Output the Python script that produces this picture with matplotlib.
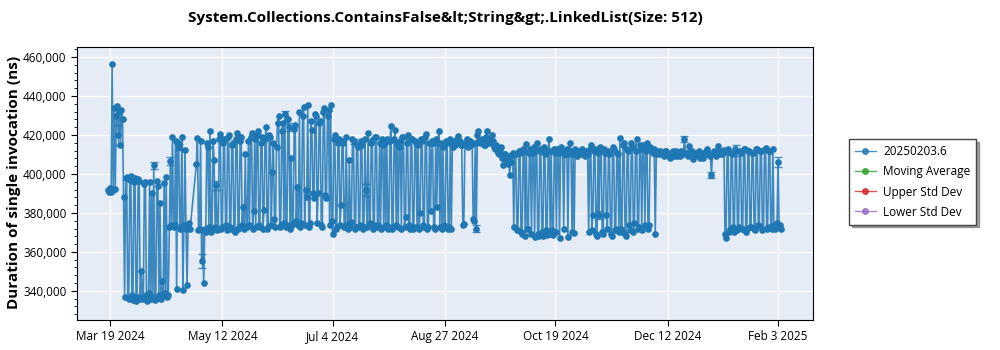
import numpy as np
import pandas as pd
import matplotlib
matplotlib.use('Agg')
import matplotlib.pyplot as plt
from matplotlib.lines import Line2D
from matplotlib.ticker import FuncFormatter, MultipleLocator, AutoMinorLocator

plt.rcParams['font.family'] = ['Open Sans', 'DejaVu Sans']

# durations in thousands of ns, two runs per day (00:00 and 12:00), nan = no run
burst = [392, 390.5, 393, 391, 456.6, 392, 434, 392.5,
         430, 435, 420, 432, 415, 433, 428, 388]          # Mar 18 - Mar 25

mar = [337, 398, 398.7, 336.5, 336, 397, 399, 338, 335.5, 396, 398, 335]   # from Mar 26
apr = [337, 397.5, 396.6, 336, 350.4, 337, 336, 395, 396, 338,
       335, 339, 396, 336, 390, 337, 404.4, 335.5, 336, 396.5,
       394, 338, 385, 336, 345.3, 338, 395.3, 339, 398.7, 337,
       338, 373, 406.8, 374, 419, 373, 374, 417, 340.8, 416,
       414, 372, 373, 419, 340.2, 374, 412.4, 372, 343, 373,
       374.7, 372, np.nan, np.nan, np.nan, np.nan, np.nan, 405, 418.4, 371]
may = [372, 417, 355.4, 371, 344, 372, 370, 416, 414, 373,
       422.3, 370, 371, 417, 407.3, 373, 394.1, 371, 372, 418,
       420.4, 372, 373, 416, 418, 374, 371, 419, 420, 373,
       372, 415, 416, 371, 370, 418, 421, 372, 373, 417,
       419, 374, 383, 372, 410, 373, 373, 417, 374, 419,
       421, 372, 381, 418, 373, 420, 422, 374, 373, 416, 419, 372]
jun = [381.6, 418, 424, 372, 373, 420, 419, 374, 401, 416,
       377, 373, 414, 426, 430, 373, 374, 422, 426, 375,
       431, 373, 374, 428, 424, 372, 408, 374, 375, 423,
       425, 376, 393.5, 374, 432, 373, 375, 430, 434.6, 374,
       391.8, 388, 435.5, 373, 374.7, 427, 422.7, 390, 387.6, 431,
       429.5, 375, 390, 426, 427, 374, 373, 432, 433.8, 389]
jul = [387.6, 430, 432.9, 374, 435.5, 376, 369.2, 418, 420, 372,
       373, 416, 418, 374, 384, 417, 415.8, 373, 373, 419,
       374, 372, 407, 373, 375.6, 418, 416.7, 372, 373, 415,
       414, 373, 374, 417, 415, 372, 373, 418, 391.8, 373,
       420.9, 374, 375, 416, 417.5, 372, 374, 419, 419, 373,
       374, 416, 372, 418, 415, 373, 416, 374, 418, 372, 373, 417]
aug = [424.4, 372, 373, 418, 422.5, 374, 416, 373, 414, 417,
       372, 419, 419, 373, 378, 416, 420, 374, 372, 418,
       418, 372, 373, 417, 416, 373, 415, 372, 380, 418,
       417, 374, 373, 419, 420.5, 372, 373, 416, 381, 417,
       416, 373, 372, 418, 383, 416, 422, 373, 416, 372,
       414, 374, 373, 417, 416, 372, 373, 418, 372, 415, 414, 417]
sep = [415, 418, 419.5, 416, 417, 415, 415, 374, 374.2, 416,
       416, 418, 414, 417, 417, 415, 416, 377, 376, 416,
       372, 420, 421.8, 417, 416, 418, 417, 415, 415, 419,
       421.8, 416, 418, 417, 416, 420, 417, 414, 413, 415,
       412.4, 411, 410, 413, 414, 408, 404.7, 410, 410, 407,
       405, 409, 399.5, 406, 409.8, 411, 373, 410, 410, 371]
oct = [371.3, 412, 411, 370, 369, 413, 412, 368, 415.3, 372,
       372, 411, 413, 369, 411, 414, 367.8, 412, 416, 369,
       368, 413, 412, 370, 368, 414, 410, 371, 368.5, 412,
       417.8, 369, 412, 371, 368.5, 413, 411, 370, 413, 411,
       367, 414, 412, 412, 372, 410, 410, 413, 367.8, 411,
       415.8, 412, 370, 410, 369.5, 413, 411, 409, 412, 410, 410, 412]
nov = [413, 410, 409, 412, 411, 410, 370, 413, 414.9, 371,
       379, 412, 413, 369, 368, 411, 379, 414, 412, 370,
       369, 413, 411, 379, 372, 412, 410, 369, 368, 414,
       413, 371, 372, 411, 410, 370, 418.3, 372, 370, 415,
       416, 369, 368, 413, 412, 374, 371, 416, 414, 370,
       374.6, 412, 417.8, 372, 373, 415, 413, 371, 415, 413]
dec = [373.8, 412, 415.8, 372, 374, 414, 413, 412, 411, 413,
       369, 410, 412, 411, 410, 412, 411, 410, 409, 412,
       412, 410, 410.5, 409, 408, 411, 411, 412, 409, 410,
       412, 409, 410, 411, 409, 412, 411, 410, 418, 411,
       411, 409, 414.5, 411, 410, 412, 407.5, 409, 409, 411,
       411, 410, 412, 408, 409, 411, 408, 410, 410, 412, 413, 410]
jan = [411, 409, 399.5, 411, 412, 410, 409, 411, 414.5, 410,
       411, 412, 410, 411, 412.5, 369, 367, 412, 413, 370,
       372, 411, 410, 373, 370, 413, 412, 371, 373, 412,
       411, 372, 371.5, 413, 413, 370, 372, 412, 412, 373,
       373, 411, 411, 372, 371, 413, 413, 374, 373.5, 412,
       412, 371, 372, 413, 413.5, 372, 373, 412, 412, 373, 372, 413]
feb = [374, 372, 373, 375, 406, 373, 374, 372]

blocks = [('2024-03-18', burst), ('2024-03-26', mar), ('2024-04-01', apr),
          ('2024-05-01', may), ('2024-06-01', jun), ('2024-07-01', jul),
          ('2024-08-01', aug), ('2024-09-01', sep), ('2024-10-01', oct),
          ('2024-11-01', nov), ('2024-12-01', dec), ('2025-01-01', jan),
          ('2025-02-01', feb)]

# runs with a visible spread (thousands of ns)
err_dates = ['2024-03-23', '2024-04-09', '2024-04-17', '2024-04-21', '2024-05-02',
             '2024-05-09', '2024-06-11', '2024-06-13', '2024-07-14', '2024-07-20',
             '2024-09-11', '2024-10-24', '2024-11-09', '2024-12-20', '2025-01-02',
             '2025-01-14', '2025-02-03']
err_size = [5, 2, 2, 1.5, 3.5, 2.5, 1.5, 2, 1.5, 3, 2, 1.5, 2, 1.5, 1.5, 3, 2.5]

tick_dates = ['2024-03-19', '2024-05-12', '2024-07-04', '2024-08-27',
              '2024-10-19', '2024-12-12', '2025-02-03']

parts = [pd.Series(vals, index=pd.date_range(start, periods=len(vals), freq='12h'))
         for start, vals in blocks]
data = pd.concat(parts).dropna() * 1000

blue = '#1f77b4'
fig = plt.figure(figsize=(10, 3.5), dpi=100)
ax = fig.add_axes([0.077, 0.086, 0.736, 0.781])
ax.set_facecolor('#e5ecf6')
ax.grid(True, color='white', lw=1)
ax.set_axisbelow(True)

ax.plot(data.index, data.values, color=blue, lw=1.2, alpha=0.85)
ax.plot(data.index, data.values, 'o', color=blue, ms=4.8, mew=0)

ed = pd.to_datetime(err_dates)
ax.errorbar(ed, data.loc[ed].values, yerr=np.array(err_size) * 1000, fmt='none',
            ecolor=blue, elinewidth=1, capsize=3, alpha=0.8)

ax.set_xlim(pd.Timestamp('2024-03-03 03:00'), pd.Timestamp('2025-02-19 19:00'))
ax.set_ylim(325100, 465400)
ax.yaxis.set_major_locator(MultipleLocator(20000))
ax.yaxis.set_minor_locator(AutoMinorLocator(5))
ax.yaxis.set_major_formatter(FuncFormatter(lambda v, p: f'{v:,.0f}'))
tick_ts = pd.to_datetime(tick_dates)
ax.set_xticks(tick_ts)
ax.set_xticklabels([f'{d:%b} {d.day} {d.year}' for d in tick_ts])
ax.tick_params(labelsize=8.5, length=4)
ax.tick_params(which='minor', length=2)
for s in ax.spines.values():
    s.set_color('black')

fig.text(0.445, 0.948, 'System.Collections.ContainsFalse&lt;String&gt;.LinkedList(Size: 512)',
         ha='center', va='center', fontsize=11, fontweight='bold')
fig.text(0.014, 0.48, 'Duration of single invocation (ns)', rotation=90,
         ha='center', va='center', fontsize=11, fontweight='bold')

legend_items = [('20250203.6', blue), ('Moving Average', '#2ca02c'),
                ('Upper Std Dev', '#d62728'), ('Lower Std Dev', '#9467bd')]
handles = [Line2D([], [], color=c, alpha=0.8, lw=1, marker='o', ms=4, mfc=c, mec=c)
           for _, c in legend_items]
fig.legend(handles, [n for n, _ in legend_items], loc='center left',
           bbox_to_anchor=(0.843, 0.48), fontsize=8.5, frameon=True, fancybox=False,
           shadow=True, edgecolor='#444444', handlelength=1.8, labelspacing=0.6,
           borderpad=0.5, handletextpad=0.6)

fig.savefig('out.png', dpi=100)
